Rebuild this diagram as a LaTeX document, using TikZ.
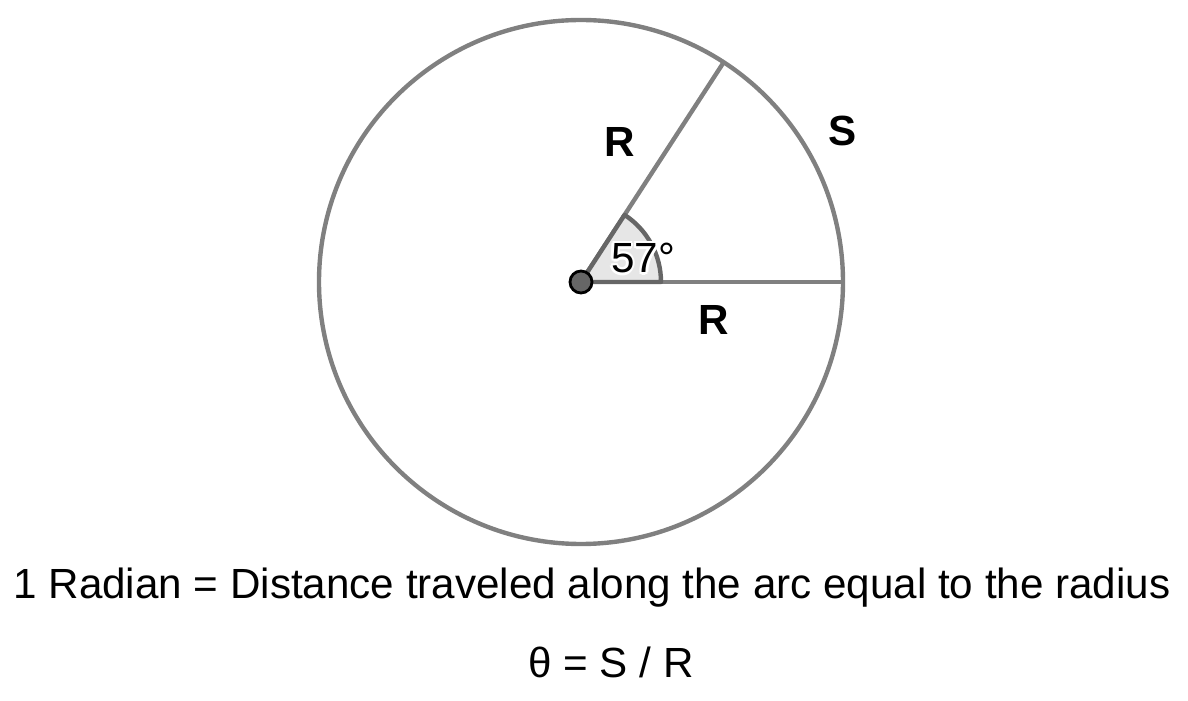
\documentclass[tikz,border=0pt]{standalone}
\usepackage{fontspec}
\setmainfont{Liberation Sans}
\usepackage{tikz}
\definecolor{white}{rgb}{1.0, 1.0, 1.0}
\definecolor{black}{rgb}{0.0, 0.0, 0.0}
\definecolor{lgray}{RGB}{128,128,128}
\definecolor{dgray}{RGB}{102,102,102}
\definecolor{sgray}{RGB}{230,230,230}
\usetikzlibrary{calc}
\pgfdeclarelayer{edgelayer}
\pgfdeclarelayer{nodelayer}
\pgfsetlayers{edgelayer,main,nodelayer}
\tikzstyle{edge}=[draw=lgray,line width=1.25pt]
\tikzstyle{dot}=[circle,fill=dgray,draw=black,line width=0.8pt,minimum size=0.22cm,inner sep=0pt]
\tikzstyle{lbl}=[font=\fontsize{12}{14}\selectfont\bfseries]
\tikzstyle{caption}=[font=\fontsize{12}{14}\selectfont]

\begin{document}
\begin{tikzpicture}
        \useasboundingbox (0, 0) rectangle (11.88, 7.01);
        \coordinate (O) at (5.81, 4.19);
        \coordinate (A) at ($(O)+(57:2.62)$);
        \coordinate (B) at ($(O)+(0:2.62)$);
        \coordinate (T) at (6.43, 4.43);

        \begin{pgfonlayer}{edgelayer}
            \draw [style = edge] (O) circle (2.62);
            \draw [style = edge] (O) to (A);
            \draw [style = edge] (O) to (B);
            \filldraw [fill=sgray, draw=dgray, line width=1.25pt, line join=round] (O) -- ++(0:0.8) arc (0:57:0.8) -- cycle;
        \end{pgfonlayer}

        \begin{pgfonlayer}{nodelayer}
            \node [style = dot] (centre) at (O) {};
            % white halo round the angle label
            \foreach \a in {0,45,...,315}
                \node [style = caption, inner sep=1pt, text=white] at ($(T)+(\a:0.025)$) {57°};
            \node [style = caption, inner sep=1pt] (angle) at (T) {57°};
            \node [style = lbl] (r1) at (6.20, 5.59) {R};
            \node [style = lbl] (r2) at (7.14, 3.81) {R};
            \node [style = lbl] (s) at (8.43, 5.70) {S};
            \node [style = caption] (def) at (5.92, 1.13) {1 Radian = Distance traveled along the arc equal to the radius};
            \node [style = caption] (eq) at (6.11, 0.39) {θ = S / R};
        \end{pgfonlayer}
    \end{tikzpicture}
\end{document}
